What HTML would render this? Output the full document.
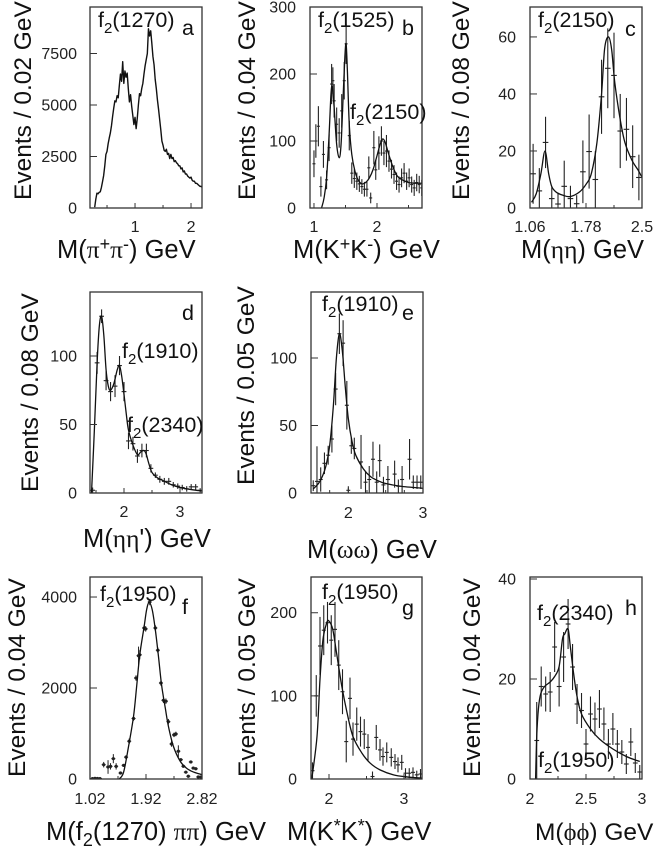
<!DOCTYPE html>
<html lang="en">
<head>
<meta charset="utf-8">
<title>Mass spectra panels</title>
<style>
html,body{margin:0;padding:0;background:#fff;}
#figure{display:block;width:654px;height:856px;filter:blur(0.3px);}
text{font-family:"Liberation Sans",sans-serif;fill:#111;}
.greek{font-family:"Liberation Serif",serif;}
.title{font-size:24.5px;}
.xtitle{font-size:25.5px;}
.note{font-size:21.5px;}
.sub{font-size:15px;}
.tick-label{font-size:16px;fill:#222;}
</style>
</head>
<body>
<svg id="figure" width="654" height="856" viewBox="0 0 654 856" xmlns="http://www.w3.org/2000/svg">
  <g id="marks"></g>

  <g>
    <text class="title" transform="translate(31,200) rotate(-90)">Events / 0.02 GeV</text>
    <text class="title" transform="translate(255,200) rotate(-90)">Events / 0.04 GeV</text>
    <text class="title" transform="translate(469,200) rotate(-90)">Events / 0.08 GeV</text>
    <text class="title" transform="translate(38,492) rotate(-90)">Events / 0.08 GeV</text>
    <text class="title" transform="translate(254,485) rotate(-90)">Events / 0.05 GeV</text>
    <text class="title" transform="translate(25,777) rotate(-90)">Events / 0.04 GeV</text>
    <text class="title" transform="translate(255,777) rotate(-90)">Events / 0.05 GeV</text>
    <text class="title" transform="translate(480,777) rotate(-90)">Events / 0.04 GeV</text>

    <text class="xtitle" x="57" y="258">M(<tspan class="greek">π</tspan><tspan font-size="18" dy="-8">+</tspan><tspan class="greek" dy="8">π</tspan><tspan font-size="18" dy="-8">-</tspan><tspan dy="8">) GeV</tspan></text>
    <text class="xtitle" x="293" y="258">M(K<tspan font-size="18" dy="-8">+</tspan><tspan dy="8">K</tspan><tspan font-size="18" dy="-8">-</tspan><tspan dy="8">) GeV</tspan></text>
    <text class="xtitle" x="521" y="258">M(<tspan class="greek">ηη</tspan>) GeV</text>
    <text class="xtitle" x="83" y="547">M(<tspan class="greek">ηη</tspan>') GeV</text>
    <text class="xtitle" x="307" y="558">M(<tspan class="greek">ωω</tspan>) GeV</text>
    <text class="xtitle" x="46" y="840">M(f<tspan font-size="18" dy="6">2</tspan><tspan dy="-6">(1270) </tspan><tspan class="greek">ππ</tspan>) GeV</text>
    <text class="xtitle" x="287" y="840">M(K<tspan font-size="18" dy="-8">*</tspan><tspan dy="8">K</tspan><tspan font-size="18" dy="-8">*</tspan><tspan dy="8">) GeV</tspan></text>
    <text class="title" x="535" y="840">M(<tspan class="greek">ϕϕ</tspan>) GeV</text>
  </g>

  <g>
    <text class="note" x="98" y="27">f<tspan class="sub" dy="6">2</tspan><tspan dy="-6">(1270)</tspan></text>
    <text class="note" x="182" y="35">a</text>
    <text class="note" x="318" y="27">f<tspan class="sub" dy="6">2</tspan><tspan dy="-6">(1525)</tspan></text>
    <text class="note" x="402" y="35">b</text>
    <text class="note" x="350" y="119">f<tspan class="sub" dy="6">2</tspan><tspan dy="-6">(2150)</tspan></text>
    <text class="note" x="538" y="27">f<tspan class="sub" dy="6">2</tspan><tspan dy="-6">(2150)</tspan></text>
    <text class="note" x="625" y="36">c</text>
    <text class="note" x="182" y="320">d</text>
    <text class="note" x="122" y="358">f<tspan class="sub" dy="6">2</tspan><tspan dy="-6">(1910)</tspan></text>
    <text class="note" x="127" y="432">f<tspan class="sub" dy="6">2</tspan><tspan dy="-6">(2340)</tspan></text>
    <text class="note" x="322" y="311">f<tspan class="sub" dy="6">2</tspan><tspan dy="-6">(1910)</tspan></text>
    <text class="note" x="402" y="320">e</text>
    <text class="note" x="100" y="601">f<tspan class="sub" dy="6">2</tspan><tspan dy="-6">(1950)</tspan></text>
    <text class="note" x="182" y="614">f</text>
    <text class="note" x="322" y="599">f<tspan class="sub" dy="6">2</tspan><tspan dy="-6">(1950)</tspan></text>
    <text class="note" x="402" y="615">g</text>
    <text class="note" x="537" y="620">f<tspan class="sub" dy="6">2</tspan><tspan dy="-6">(2340)</tspan></text>
    <text class="note" x="625" y="615">h</text>
    <text class="note" x="538" y="767">f<tspan class="sub" dy="6">2</tspan><tspan dy="-6">(1950)</tspan></text>
  </g>
</svg>

<script>
// Panel a: pi+ pi-
const aMass=[.28,.30,.32,.34,.36,.38,.40,.42,.44,.46,.48,.50,.52,.54,.56,.58,.60,.62,.64,.66,.68,.70,.72,.74,.76,.78,.80,.82,.84,.86,.88,.90,.92,.94,.96,.98,1.00,1.02,1.04,1.06,1.08,1.10,1.12,1.14,1.16,1.18,1.20,1.22,1.24,1.26,1.28,1.30,1.32,1.34,1.36,1.38,1.40,1.42,1.44,1.46,1.48,1.50,1.52,1.54,1.56,1.58,1.60,1.62,1.64,1.66,1.68,1.70,1.72,1.74,1.76,1.78,1.80,1.82,1.84,1.86,1.88,1.90,1.92,1.94,1.96,1.98,2.00,2.02,2.04,2.06,2.08,2.10,2.12,2.14,2.16,2.18,2.20];
const aEvents=[40,430,720,690,760,790,1000,1280,1580,2050,2600,2750,3120,3400,3650,4000,4450,4850,5200,5150,5450,5350,5950,6500,6150,7100,6050,6650,6350,6550,5800,5150,5500,4950,4500,4050,4400,3850,4350,5000,5550,5450,5800,6050,6500,6900,7200,7500,8700,8350,8600,8000,7350,6950,6250,5800,5250,4800,4300,3800,3250,3050,2800,2750,2850,2600,2650,2400,2600,2400,2450,2250,2300,2200,2150,2050,2050,1900,1950,1750,1800,1650,1650,1550,1500,1450,1500,1350,1300,1300,1200,1200,1150,1100,1050,1050,1000];
const aXTickLabels=['1','2'];
const aXMinor=[0.5,1.5];
const aYTickLabels=['0','2500','5000','7500'];

// Panel b: K+ K-
const bMass=[1.00,1.03,1.07,1.11,1.15,1.20,1.24,1.28,1.30,1.32,1.36,1.40,1.44,1.48,1.51,1.56,1.60,1.64,1.68,1.72,1.76,1.80,1.84,1.87,1.90,1.95,1.98,2.03,2.07,2.11,2.15,2.19,2.23,2.27,2.31,2.35,2.39,2.43,2.47,2.51,2.55,2.59,2.63,2.67,2.71,2.75];
const bEvents=[66,100,122,32,80,42,90,185,190,160,125,112,145,190,245,108,52,44,40,36,32,28,28,60,15,90,57,82,100,82,85,70,58,50,40,35,45,52,40,45,35,30,38,35,30,38];
const bErrors=[20,25,30,15,20,14,20,30,20,25,25,22,25,28,30,22,16,14,13,12,11,11,11,17,8,25,15,25,22,18,24,16,14,14,13,12,14,15,13,14,12,12,13,13,12,13];
const bCurveMass=[1.12,1.16,1.20,1.24,1.27,1.29,1.32,1.36,1.40,1.43,1.46,1.49,1.51,1.53,1.56,1.60,1.65,1.70,1.76,1.82,1.88,1.94,2.00,2.05,2.09,2.13,2.18,2.25,2.32,2.40,2.50,2.60,2.71];
const bCurveEvents=[0,15,45,110,170,180,150,95,75,95,160,225,245,205,125,80,55,42,36,38,45,58,78,95,103,98,82,62,48,42,38,37,37];
const bXTickLabels=['1','2'];
const bXMinor=[1.5,2.5];
const bYTickLabels=['0','100','200','300'];

// Panel c: eta eta
const cMass=[1.10,1.18,1.26,1.34,1.42,1.50,1.58,1.66,1.74,1.82,1.90,1.98,2.06,2.14,2.22,2.30,2.38,2.46];
const cEvents=[12,6,23,3.3,1.4,7.6,3.3,1.5,12.7,19.8,10,39,49,46.5,27,27.6,18,10.7];
const cErrors=[10.5,8,9,4,4,9,4.5,3,11,13,10,13,14,15,13,11,11,8];
const cCurveMass=[1.08,1.14,1.20,1.253,1.30,1.34,1.40,1.48,1.574,1.70,1.79,1.85,1.92,1.98,2.02,2.07,2.11,2.15,2.22,2.28,2.37,2.45,2.495];
const cCurveEvents=[2,5,12,20,12,7.5,5.5,4.5,4,5.7,8.7,12.2,22.8,40,56,60,55.5,44,31,23,16.8,13.3,11];
const cXTickLabels=['1.06','1.78','2.5'];
const cXMinor=[1.42,2.14];
const cYTickLabels=['0','20','40','60'];

// Panel d: eta eta'
const dMass=[1.44,1.52,1.60,1.68,1.76,1.84,1.92,2.00,2.08,2.16,2.24,2.32,2.40,2.48,2.56,2.64,2.72,2.80,2.88,2.96,3.04,3.12,3.20,3.28,3.36];
const dEvents=[2,95,129,82,74,78,93,74,38,36,27,31,31,18,13,10,8.5,8.5,6,5,4,3,4.5,4.5,2];
const dErrors=[2,8,5,7,7,8,7,7,6,5,5,5,5,3,2,2.5,2.5,2.5,2,2,2,2,2,2,1.5];
const dCurveMass=[1.42,1.47,1.52,1.56,1.60,1.64,1.68,1.72,1.76,1.82,1.88,1.92,1.96,2.00,2.04,2.08,2.16,2.24,2.30,2.36,2.40,2.44,2.50,2.60,2.70,2.85,3.00,3.20,3.39];
const dCurveEvents=[0,45,95,122,129,115,90,78,75,80,90,93,85,72,58,46,35,28,30,31,28,22,15,11,9,6,4,2.5,1.5];
const dXTickLabels=['2','3'];
const dXMinor=[1.5,2.5];
const dYTickLabels=['0','50','100'];

// Panel e: omega omega
const eMass=[1.53,1.58,1.63,1.68,1.73,1.78,1.83,1.88,1.93,1.98,2.00,2.04,2.08,2.17,2.23,2.28,2.33,2.38,2.42,2.47,2.53,2.62,2.67,2.72,2.82,2.87,2.92,2.97];
const eEvents=[5.4,8.6,10,22,28,40,77,118,111,65,2,35,33,23,8,10,25,8,24,6,10,14,5,10,25,8,8,8];
const eErrors=[4,26,9,8,7,10,12,15,17,18,3,6,8,20,8,10,13,8,12,6,10,10,5,10,15,5,5,5];
const eCurveMass=[1.53,1.60,1.65,1.70,1.75,1.80,1.84,1.88,1.92,1.96,2.00,2.05,2.10,2.20,2.30,2.40,2.50,2.70,3.00];
const eCurveEvents=[3,7,12,20,35,65,100,118,105,78,55,38,28,18,12,9,7,5,3.5];
const eXTickLabels=['2','3'];
const eXMinor=[1.75,2.25,2.5,2.75];
const eYTickLabels=['0','50','100'];

// Panel f: f2(1270) pi pi
const fMass=[1.06,1.10,1.14,1.18,1.24,1.31,1.35,1.395,1.44,1.51,1.56,1.60,1.65,1.72,1.76,1.80,1.82,1.89,1.915,1.98,2.07,2.11,2.16,2.20,2.24,2.28,2.33,2.37,2.40,2.44,2.48,2.52,2.56,2.60,2.64,2.68,2.72,2.76,2.80];
const fEvents=[10,15,12,10,315,264,278,447,278,132,300,480,830,1330,2220,2710,2730,3320,3300,3890,3320,2830,2110,1730,1710,1260,770,970,990,610,425,280,150,60,375,240,225,45,45];
const fErrors=[5,5,5,5,60,150,70,100,70,30,30,40,60,50,60,200,100,60,60,70,60,60,60,60,60,60,60,50,50,130,30,30,30,30,30,30,30,30,30];
const fCurveMass=[1.49,1.56,1.64,1.72,1.77,1.82,1.89,1.93,1.97,2.02,2.07,2.12,2.17,2.23,2.28,2.36,2.47,2.57,2.68,2.82];
const fCurveEvents=[0,150,720,1380,2040,2730,3350,3720,3880,3720,3280,2700,2070,1560,1160,720,390,240,155,95];
const fXTickLabels=['1.02','1.92','2.82'];
const fXMinor=[1.47,2.37];
const fYTickLabels=['0','2000','4000'];

// Panel g: K* K*
const gMass=[1.78,1.83,1.88,1.93,1.98,2.03,2.08,2.13,2.18,2.23,2.28,2.32,2.37,2.42,2.47,2.52,2.58,2.63,2.68,2.72,2.77,2.83,2.88,2.92,2.97,3.02,3.07,3.12,3.17,3.22];
const gEvents=[10,100,160,179,188,167,180,137,105,45,97,48,66,57,54,38,3,50,35,27,32,26,21,17,20,7,7,8,5,6];
const gErrors=[10,25,35,30,25,30,33,30,27,25,25,20,20,18,18,16,6,15,13,11,12,11,9,9,9,6,6,6,5,6];
const gCurveMass=[1.77,1.84,1.88,1.92,1.97,2.00,2.05,2.10,2.17,2.24,2.32,2.44,2.55,2.68,2.86,3.04,3.24];
const gCurveEvents=[0,51,120,168,188,190,180,152,112,80,51,31,19,11,5,2.5,1];
const gXTickLabels=['2','3'];
const gXMinor=[2.5];
const gYTickLabels=['0','100','200'];

// Panel h: phi phi
const hMass=[2.06,2.10,2.14,2.18,2.22,2.26,2.30,2.34,2.38,2.42,2.46,2.50,2.54,2.58,2.62,2.66,2.70,2.74,2.78,2.82,2.86,2.90,2.94,2.98];
const hEvents=[7.7,18.5,17,17.4,26.4,18.5,24.4,31,22.4,15,13.7,7,13,12,14,11,7,10,7,5.4,3,7.4,3.2,1.4];
const hErrors=[7.7,4,3.5,4,5,4,5,5,4.6,4,3.5,3,3.5,3.3,3.8,3.3,3,3.2,2.8,2.4,2,2.8,2,1.4];
const hCurveMass=[2.05,2.06,2.075,2.095,2.13,2.18,2.22,2.26,2.29,2.31,2.34,2.36,2.39,2.42,2.46,2.54,2.62,2.74,2.86,2.98];
const hCurveEvents=[0,8.5,14,17,18.5,19.4,20.5,22.5,28,29,30,26.5,21,16.5,13,10,8,6,4.5,3.5];
const hXTickLabels=['2','2.5','3'];
const hXMinor=[2.25,2.75];
const hYTickLabels=['0','20','40'];

const SVG_NS='http://www.w3.org/2000/svg';
const root=document.getElementById('marks');

function make(parent,tag,attrs){
  const el=document.createElementNS(SVG_NS,tag);
  for(const k in attrs){el.setAttribute(k,attrs[k]);}
  parent.appendChild(el);
  return el;
}

function smoothPath(pts){
  let d='M'+pts[0][0].toFixed(2)+' '+pts[0][1].toFixed(2);
  for(let i=0;i<pts.length-1;i++){
    const p0=pts[Math.max(i-1,0)],p1=pts[i],p2=pts[i+1],p3=pts[Math.min(i+2,pts.length-1)];
    const c1x=p1[0]+(p2[0]-p0[0])/6,c1y=p1[1]+(p2[1]-p0[1])/6;
    const c2x=p2[0]-(p3[0]-p1[0])/6,c2y=p2[1]-(p3[1]-p1[1])/6;
    d+=' C'+c1x.toFixed(2)+' '+c1y.toFixed(2)+' '+c2x.toFixed(2)+' '+c2y.toFixed(2)+' '+p2[0].toFixed(2)+' '+p2[1].toFixed(2);
  }
  return d;
}

function drawPanel(p){
  const sx=v=>p.l+(v-p.xd[0])/(p.xd[1]-p.xd[0])*(p.r-p.l);
  const sy=v=>p.b-(v-p.yd[0])/(p.yd[1]-p.yd[0])*(p.b-p.t);

  const g=make(root,'g',{});
  
  

  const defs=make(g,'defs',{});
  const clip=make(defs,'clipPath',{id:'clip-'+p.id});
  make(clip,'rect',{x:p.l,y:p.t,width:p.r-p.l,height:p.b-p.t});

  const plot=make(g,'g',{'clip-path':'url(#clip-'+p.id+')'});
  
  

  if(p.err){
    p.mass.forEach((m,i)=>{
      const point=make(plot,'g',{stroke:'#222','stroke-width':p.dot?1:1.1,fill:'#222'});
      
      
      make(point,'line',{x1:sx(m),x2:sx(m),y1:sy(p.ev[i]-p.err[i]),y2:sy(p.ev[i]+p.err[i])});
      make(point,'line',{x1:sx(m)-p.cap,x2:sx(m)+p.cap,y1:sy(p.ev[i]),y2:sy(p.ev[i])});
      if(p.dot){make(point,'circle',{cx:sx(m),cy:sy(p.ev[i]),r:p.dot,stroke:'none'});}
    });
  }

  const curveMass=p.cm||p.mass;
  const curveEv=p.ce||p.ev;
  const pts=curveMass.map((m,i)=>[sx(m),sy(curveEv[i])]);
  const d=p.cm?smoothPath(pts):pts.map((q,i)=>(i?'L':'M')+q[0].toFixed(2)+' '+q[1].toFixed(2)).join(' ');
  const curve=make(plot,'path',{d:d,fill:'none',stroke:'#111','stroke-width':p.lw||1.3,'stroke-linejoin':'round'});
  
  

  const frame=make(g,'rect',{x:p.l,y:p.t,width:p.r-p.l,height:p.b-p.t,fill:'none',stroke:'#333','stroke-width':1.3});
  
  

  p.xt.forEach(label=>{
    const v=parseFloat(label);
    const tick=make(g,'line',{x1:sx(v),x2:sx(v),y1:p.b,y2:p.b-5,stroke:'#333','stroke-width':1});
    
    
    const t=make(g,'text',{x:sx(v),y:p.xl,'text-anchor':'middle','class':'tick-label'});
    
    
    t.textContent=label;
  });
  p.xm.forEach(v=>{
    const tick=make(g,'line',{x1:sx(v),x2:sx(v),y1:p.b,y2:p.b-3,stroke:'#333','stroke-width':1});
    
    
  });
  p.yt.forEach(label=>{
    const v=parseFloat(label);
    const tick=make(g,'line',{x1:p.l,x2:p.l+7,y1:sy(v),y2:sy(v),stroke:'#333','stroke-width':1});
    
    
    const t=make(g,'text',{x:p.yl,y:sy(v)+5.5,'text-anchor':'end','class':'tick-label'});
    
    
    t.textContent=label;
  });
}

drawPanel({id:'a',l:90,r:202,t:7,b:208,xd:[0.196,2.196],yd:[0,9757],mass:aMass,ev:aEvents,lw:1.4,xt:aXTickLabels,xm:aXMinor,yt:aYTickLabels,xl:232,yl:77});
drawPanel({id:'b',l:310,r:422,t:7,b:208,xd:[0.937,2.714],yd:[0,300],mass:bMass,ev:bEvents,err:bErrors,cap:1.5,cm:bCurveMass,ce:bCurveEvents,xt:bXTickLabels,xm:bXMinor,yt:bYTickLabels,xl:232,yl:296});
drawPanel({id:'c',l:530,r:642,t:7,b:208,xd:[1.06,2.5],yd:[0,70.5],mass:cMass,ev:cEvents,err:cErrors,cap:2.8,cm:cCurveMass,ce:cCurveEvents,xt:cXTickLabels,xm:cXMinor,yt:cYTickLabels,xl:232,yl:516});
drawPanel({id:'d',l:90,r:202,t:292,b:493,xd:[1.393,3.393],yd:[0,146.7],mass:dMass,ev:dEvents,err:dErrors,cap:2.4,cm:dCurveMass,ce:dCurveEvents,xt:dXTickLabels,xm:dXMinor,yt:dYTickLabels,xl:517,yl:77});
drawPanel({id:'e',l:311,r:423,t:292,b:493,xd:[1.5,3],yd:[0,148.9],mass:eMass,ev:eEvents,err:eErrors,cap:2,cm:eCurveMass,ce:eCurveEvents,xt:eXTickLabels,xm:eXMinor,yt:eYTickLabels,xl:518,yl:297});
drawPanel({id:'f',l:90,r:202,t:577,b:779,xd:[1.02,2.82],yd:[0,4440],mass:fMass,ev:fEvents,err:fErrors,cap:2,dot:1.6,cm:fCurveMass,ce:fCurveEvents,xt:fXTickLabels,xm:fXMinor,yt:fYTickLabels,xl:804,yl:77});
drawPanel({id:'g',l:311,r:422,t:577,b:779,xd:[1.76,3.24],yd:[0,243],mass:gMass,ev:gEvents,err:gErrors,cap:2,cm:gCurveMass,ce:gCurveEvents,xt:gXTickLabels,xm:gXMinor,yt:gYTickLabels,xl:804,yl:297});
drawPanel({id:'h',l:530,r:642,t:577,b:779,xd:[2,3],yd:[0,40.4],mass:hMass,ev:hEvents,err:hErrors,cap:2.4,cm:hCurveMass,ce:hCurveEvents,xt:hXTickLabels,xm:hXMinor,yt:hYTickLabels,xl:804,yl:516});
</script>
</body>
</html>
